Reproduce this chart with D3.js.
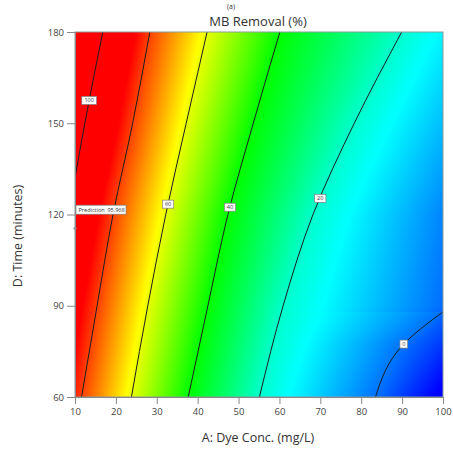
<!DOCTYPE html>
<html><head><meta charset="utf-8">
<script src="https://cdn.jsdelivr.net/npm/d3@7"></script>
<style>html,body{margin:0;padding:0;background:#fff;}svg{display:block;font-family:"Open Sans","Noto Sans",sans-serif;}</style>
</head><body>
<svg id="chart" width="453" height="452"></svg>
<script>
// ---- data ----
const xTicks = [10,20,30,40,50,60,70,80,90,100];
const yTicks = [60,90,120,150,180];
const contourLevels = [100, 80, 60, 40, 20, 0];
// contour lines as [A (dye conc), D (time)] points
const line100 = [[16.8,180],[14.4,164],[12.4,150],[10,132]];
const line80  = [[28.3,180],[24.1,150],[19.3,120],[15.4,90],[11.6,60]];
const line60  = [[42.3,180],[37.2,150],[32.2,120],[27.8,90],[23.8,60]];
const line40  = [[60.1,180],[53.6,150],[47.4,120],[42.5,90],[37.7,60]];
const line20  = [[89.9,180],[78.3,150],[68.2,120],[60.9,90],[55.1,60]];
const line0   = [[83.5,60],[90.4,77.4],[100,88]];
// response along the left (A=10) and right (A=100) edges at yTicks
const leftEdge  = [83, 89, 96, 104, 112];
const rightEdge = [-14, -0.5, 2, 8, 14];
// contour label positions (time at which label sits on its line); null = hidden
const labelTimes = [157.5, null, 123.4, 122.4, 125.3, 77.4];
const prediction = {A:10, D:115.5, text:"Prediction  95.968"};
const colorStops = [-12, 15, 40, 62, 86];
const colorRange = ["#0000ff","#00ffff","#00ff00","#ffff00","#ff0000"];

// ---- layout ----
const svg = d3.select("#chart");
const x0=75, x1=443, y0=32, y1=397;
const x = d3.scaleLinear().domain([10,100]).range([x0,x1]);
const y = d3.scaleLinear().domain([60,180]).range([y1,y0]);
const color = d3.scaleLinear().domain(colorStops).range(colorRange).clamp(true);
const lines = [line100,line80,line60,line40,line20,line0];

function crossA(pts, D){
  const s = pts.slice().sort((a,b)=>a[1]-b[1]);
  if (D < s[0][1] || D > s[s.length-1][1]) return null;
  for (let i=0;i<s.length-1;i++){
    if (D>=s[i][1] && D<=s[i+1][1]){
      const t=(D-s[i][1])/(s[i+1][1]-s[i][1]||1);
      return s[i][0]+t*(s[i+1][0]-s[i][0]);
    }
  }
  return null;
}
const edgeL = d3.scaleLinear().domain(yTicks).range(leftEdge);
const edgeR = d3.scaleLinear().domain(yTicks).range(rightEdge);

// ---- colour field ----
const cw = x1-x0, ch = y1-y0;
const canvas = document.createElement("canvas");
canvas.width=cw; canvas.height=ch;
const ctx = canvas.getContext("2d");
const img = ctx.createImageData(cw,ch);
for (let py=0; py<ch; py++){
  const D = y.invert(y0+py+0.5);
  const knots = [[10, edgeL(D)]];
  lines.forEach((pts,i)=>{
    const a = crossA(pts,D);
    if (a!==null && a>10 && a<100) knots.push([a, contourLevels[i]]);
  });
  knots.push([100, edgeR(D)]);
  knots.sort((a,b)=>a[0]-b[0]);
  const f = d3.scaleLinear().domain(knots.map(k=>k[0])).range(knots.map(k=>k[1]));
  for (let px=0; px<cw; px++){
    const A = x.invert(x0+px+0.5);
    const c = d3.rgb(color(f(A)));
    const k=(py*cw+px)*4;
    img.data[k]=c.r; img.data[k+1]=c.g; img.data[k+2]=c.b; img.data[k+3]=255;
  }
}
ctx.putImageData(img,0,0);
svg.append("image").attr("x",x0).attr("y",y0).attr("width",cw).attr("height",ch)
  .attr("preserveAspectRatio","none").attr("href",canvas.toDataURL());

// ---- contour lines ----
svg.append("clipPath").attr("id","clip").append("rect")
  .attr("x",x0).attr("y",y0).attr("width",cw).attr("height",ch);
const lineGen = d3.line().x(d=>x(d[0])).y(d=>y(d[1])).curve(d3.curveMonotoneY);
const g = svg.append("g").attr("clip-path","url(#clip)");
lines.forEach(pts=>{
  g.append("path").attr("d",lineGen(pts.slice().sort((a,b)=>a[1]-b[1])))
    .attr("fill","none").attr("stroke","#1e1e1e").attr("stroke-width",1);
});

// contour labels
lines.forEach((pts,i)=>{
  const D = labelTimes[i];
  if (D===null) return;
  const A = crossA(pts,D);
  const txt = String(contourLevels[i]);
  const w = txt.length*3.6+4, h=8;
  const cx=x(A), cy=y(D);
  svg.append("rect").attr("x",cx-w/2).attr("y",cy-h/2).attr("width",w).attr("height",h)
    .attr("fill","#fff").attr("stroke","#808080").attr("stroke-width",0.7);
  svg.append("text").attr("x",cx).attr("y",cy+2).attr("text-anchor","middle")
    .attr("font-size",5.5).attr("fill","#333").text(txt);
});

// prediction flag
svg.append("circle").attr("cx",x(prediction.A)).attr("cy",y(prediction.D)).attr("r",1.5)
  .attr("fill","#999");
const pbx = x(prediction.A)+1, pby = y(prediction.D)-23;
svg.append("rect").attr("x",pbx).attr("y",pby).attr("width",50).attr("height",9)
  .attr("fill","#fff").attr("stroke","#808080").attr("stroke-width",0.7);
svg.append("text").attr("x",pbx+2.5).attr("y",pby+6.5).attr("font-size",5.5).attr("fill","#333")
  .attr("xml:space","preserve").text(prediction.text);

// ---- border & axes ----
svg.append("rect").attr("x",x0).attr("y",y0).attr("width",cw).attr("height",ch)
  .attr("fill","none").attr("stroke","#8c9a9a").attr("stroke-width",1);

const xAxis = svg.append("g").attr("transform",`translate(0,${y1})`)
  .call(d3.axisBottom(x).tickValues(xTicks).tickSize(7).tickPadding(4).tickSizeOuter(0));
const yAxis = svg.append("g").attr("transform",`translate(${x0},0)`)
  .call(d3.axisLeft(y).tickValues(yTicks).tickSize(8).tickPadding(3).tickSizeOuter(0));
[xAxis,yAxis].forEach(a=>{
  a.select(".domain").attr("stroke","#888");
  a.selectAll(".tick line").attr("stroke","#888");
  a.selectAll(".tick text").attr("fill","#444").attr("font-size",9.5)
    .attr("font-family","'Open Sans','Noto Sans',sans-serif");
});

// ---- titles ----
svg.append("text").attr("x",231).attr("y",9).attr("text-anchor","middle")
  .attr("font-size",7).attr("fill","#333").text("(a)");
svg.append("text").attr("x",258).attr("y",26).attr("text-anchor","middle")
  .attr("font-size",13).attr("fill","#333").text("MB Removal (%)");
svg.append("text").attr("x",258).attr("y",442).attr("text-anchor","middle")
  .attr("font-size",12.5).attr("fill","#333").text("A: Dye Conc. (mg/L)");
svg.append("text").attr("transform","translate(22,236) rotate(-90)").attr("text-anchor","middle")
  .attr("font-size",12.5).attr("fill","#333").text("D: Time (minutes)");
</script>
</body></html>
